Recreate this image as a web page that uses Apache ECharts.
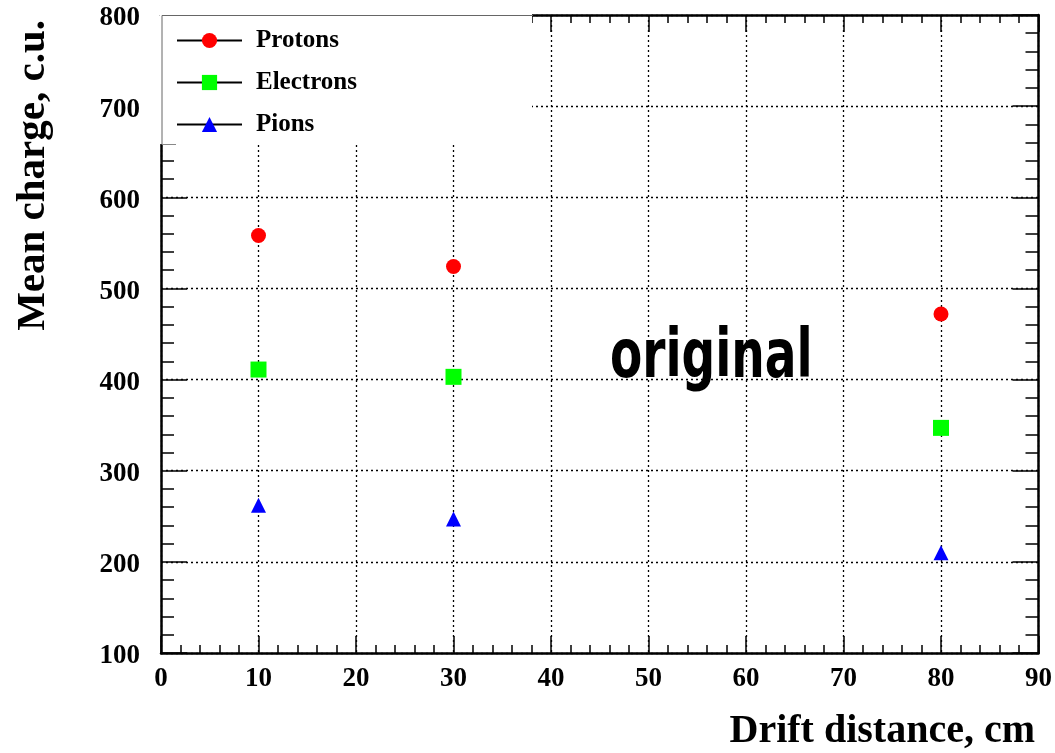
<!DOCTYPE html>
<html>
<head>
<meta charset="utf-8">
<script src="https://cdn.jsdelivr.net/npm/echarts@6/dist/echarts.min.js"></script>
<style>
  html, body { margin: 0; padding: 0; background: #fff; }
  #chart { width: 1055px; height: 753px; }
</style>
</head>
<body>
<div id="chart"></div>
<script>
const distances = [10, 30, 80]
const protons = [558, 524, 472]
const electrons = [411, 403, 347]
const pions = [262, 247, 210]

const serif = "'Liberation Serif', 'Times New Roman', serif"
const G = { left: 161, top: 15, right: 1040, bottom: 653 }

const chart = echarts.init(document.getElementById('chart'))

function pts(vals) { return distances.map((d, i) => [d, vals[i]]) }

function mkSeries(name, vals, symbol, size, color) {
  return {
    name, type: 'line', data: pts(vals), symbol, symbolSize: size,
    itemStyle: { color },
    lineStyle: { width: 0, opacity: 0 },
    xAxisIndex: 0, yAxisIndex: 0, z: 5,
  }
}

const tickX = { show: true, inside: true, length: 17, lineStyle: { color: '#000', width: 1.5 } }
const minorX = { show: true, splitNumber: 5, length: 8, lineStyle: { color: '#000', width: 1.5 } }
const tickY = { show: true, inside: true, length: 26, lineStyle: { color: '#000', width: 1.5 } }
const minorY = { show: true, splitNumber: 5, length: 13, lineStyle: { color: '#000', width: 1.5 } }
const axisLine = { show: true, onZero: false, lineStyle: { color: '#000', width: 2.5 } }
const grid = { show: true, lineStyle: { color: '#000', width: 1.3, type: [2, 3] } }

chart.setOption({
  animation: false,
  grid: { left: G.left, top: G.top, right: 1055 - G.right, bottom: 753 - G.bottom, containLabel: false },
  xAxis: [
    {
      type: 'value', min: 0, max: 90, interval: 10, position: 'bottom',
      axisLine, axisTick: tickX, minorTick: minorX, splitLine: grid,
      axisLabel: { margin: 13, color: '#000', fontFamily: serif, fontWeight: 'bold', fontSize: 27 },
    },
    {
      type: 'value', min: 0, max: 90, interval: 10, position: 'top',
      axisLine, axisTick: tickX, minorTick: minorX, splitLine: { show: false }, axisLabel: { show: false },
    },
  ],
  yAxis: [
    {
      type: 'value', min: 100, max: 800, interval: 100, position: 'left',
      axisLine, axisTick: tickY, minorTick: minorY, splitLine: grid,
      axisLabel: {
        margin: 21, formatter: '{v|{value}}',
        rich: { v: { color: '#000', fontFamily: serif, fontWeight: 'bold', fontSize: 27, padding: [7, 0, 0, 0] } },
      },
    },
    {
      type: 'value', min: 100, max: 800, interval: 100, position: 'right',
      axisLine, axisTick: tickY, minorTick: minorY, splitLine: { show: false }, axisLabel: { show: false },
    },
  ],
  legend: {
    orient: 'vertical', left: 176, top: 28, padding: 0, z: 120,
    itemWidth: 65, itemHeight: 19, itemGap: 17,
    lineStyle: { color: '#000', width: 2, opacity: 1 },
    textStyle: { color: '#000', fontFamily: serif, fontWeight: 'bold', fontSize: 25, padding: [0, 0, 0, 9] },
    selectedMode: false,
    data: ['Protons', 'Electrons', 'Pions'],
  },
  series: [
    mkSeries('Protons', protons, 'circle', 15, '#ff0000'),
    mkSeries('Electrons', electrons, 'rect', 16, '#00ff00'),
    mkSeries('Pions', pions, 'triangle', 15, '#0000ff'),
  ],
  graphic: [
    { type: 'rect', z: 100, shape: { x: G.left - 1, y: G.top - 2, width: 533 - G.left, height: 146 - G.top }, style: { fill: '#fff' } },
    { type: 'polyline', z: 101, shape: { points: [[162, 145], [162, 15.5], [533, 15.5]] }, style: { stroke: '#666', lineWidth: 1, fill: null } },
    { type: 'polyline', z: 101, shape: { points: [[162, 144.5], [176, 144.5]] }, style: { stroke: '#888', lineWidth: 1, fill: null } },
    {
      type: 'text', z: 102, x: 610, y: 326, scaleX: 0.78,
      style: { text: 'original', fill: '#000', font: "bold 67px 'DejaVu Sans Condensed', 'DejaVu Sans', sans-serif" },
    },
    {
      type: 'text', z: 102, right: 20, top: 712,
      style: { text: 'Drift distance, cm', fill: '#000', font: "bold 40px " + serif },
    },
    {
      type: 'text', z: 102, x: 13, y: 20, rotation: Math.PI / 2,
      style: { text: 'Mean charge, c.u.', fill: '#000', font: "bold 41px " + serif, align: 'right', verticalAlign: 'top' },
    },
  ],
})
</script>
</body>
</html>
